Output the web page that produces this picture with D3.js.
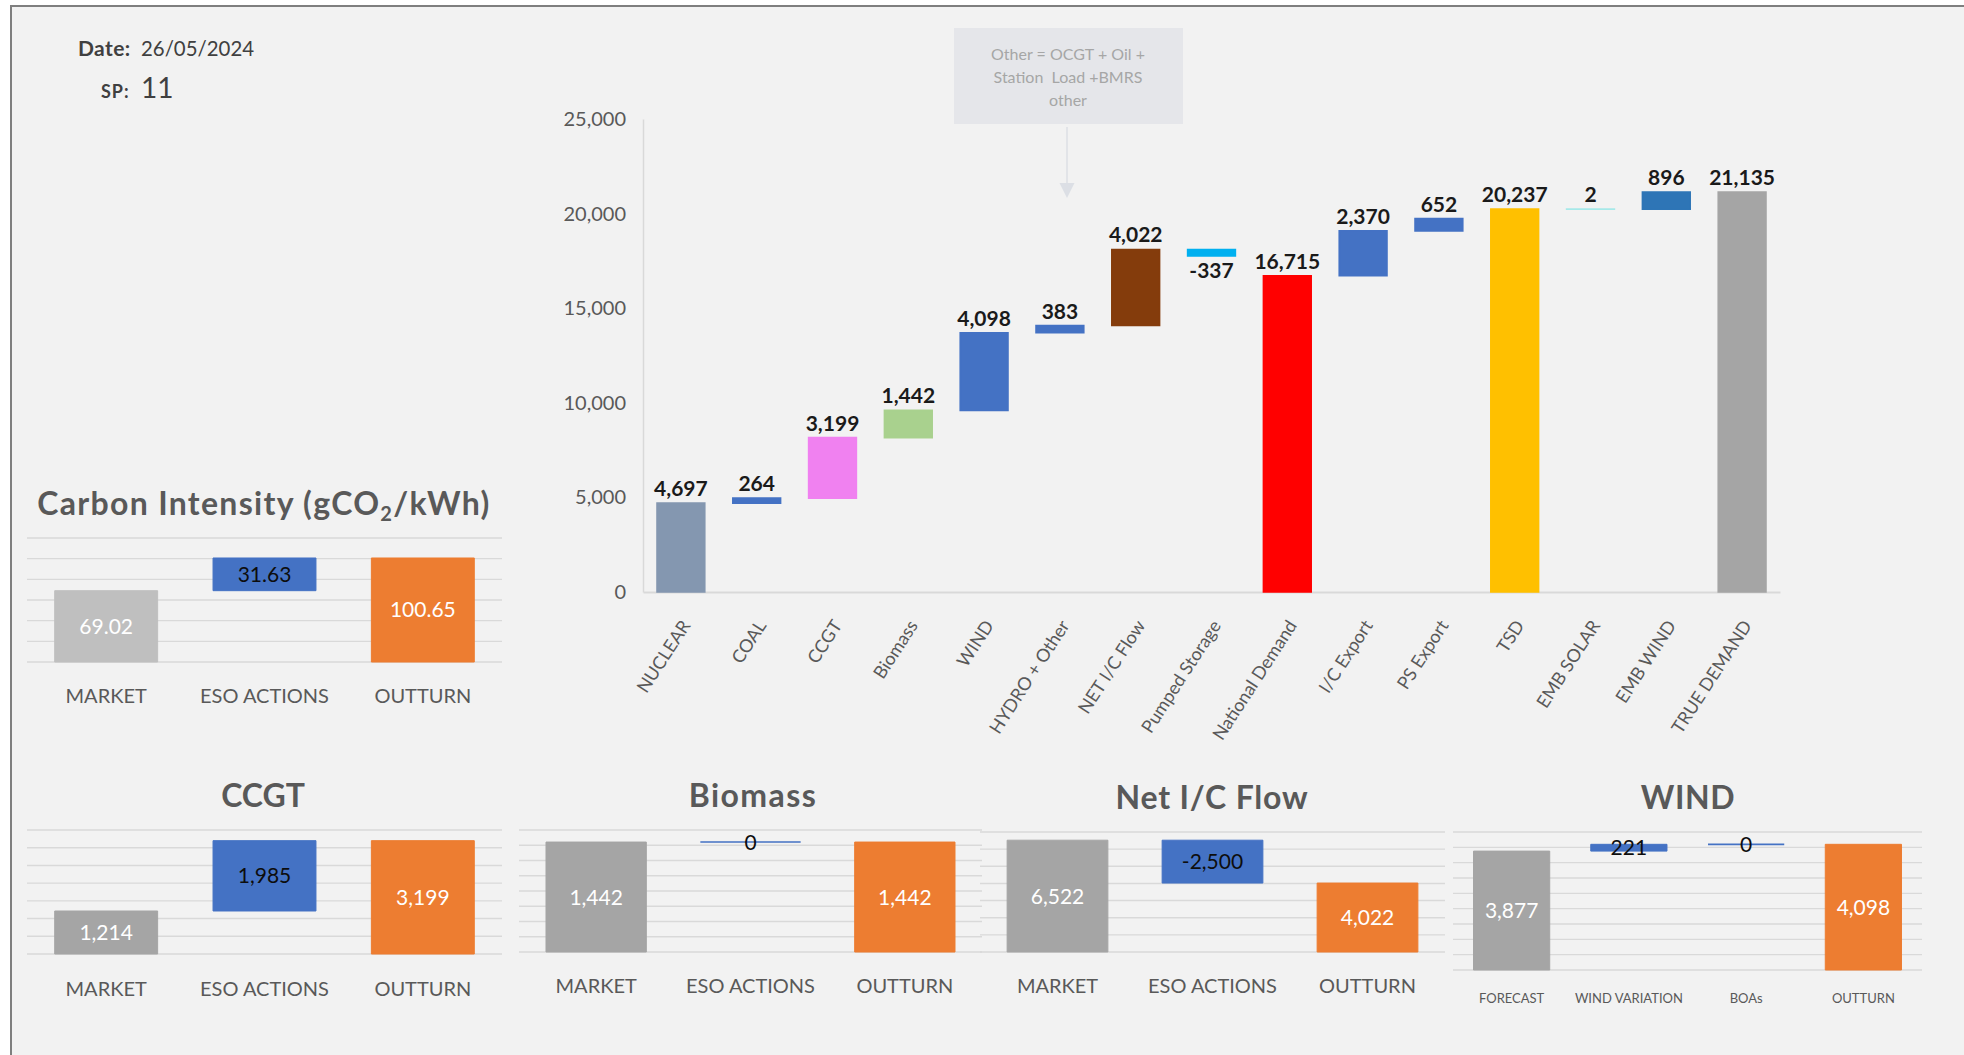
<!DOCTYPE html>
<html>
<head>
<meta charset="utf-8">
<script src="https://cdn.jsdelivr.net/npm/d3@7/dist/d3.min.js"></script>
<style>
  html, body { margin: 0; padding: 0; background: #ffffff; }
  svg { display: block; font-family: Lato, "Open Sans", sans-serif; }
</style>
</head>
<body>
<svg id="chart" width="1964" height="1055"></svg>
<script>
// ---- Header ----
const reportDate = "26/05/2024";
const settlementPeriod = "11";

// ---- Main waterfall: generation build-up to true demand (MW) ----
const categories = ["NUCLEAR", "COAL", "CCGT", "Biomass", "WIND", "HYDRO + Other", "NET I/C Flow",
  "Pumped Storage", "National Demand", "I/C Export", "PS Export", "TSD", "EMB SOLAR", "EMB WIND", "TRUE DEMAND"];
const values = [4697, 264, 3199, 1442, 4098, 383, 4022, -337, 16715, 2370, 652, 20237, 2, 896, 21135];
const totalFlags = [false, false, false, false, false, false, false, false, true, false, false, true, false, false, true];
const yTicks = [0, 5000, 10000, 15000, 20000, 25000];
const barColors = ["#8497B0", "#4472C4", "#F081F0", "#A9D18E", "#4472C4", "#4472C4", "#843C0C",
  "#00B0F0", "#FF0000", "#4472C4", "#4472C4", "#FFC000", "#A6E9E9", "#2E75B6", "#A5A5A5"];
const noteLines = ["Other = OCGT + Oil +", "Station  Load +BMRS", "other"];

// ---- Small panels ----
const ciCategories = ["MARKET", "ESO ACTIONS", "OUTTURN"];
const ciValues = [69.02, 31.63, 100.65];
const ciTicks = [0, 20, 40, 60, 80, 100, 120];

const adjCategories = ["MARKET", "ESO ACTIONS", "OUTTURN"];
const ccgtValues = [1214, 1985, 3199];
const ccgtTicks = [0, 500, 1000, 1500, 2000, 2500, 3000, 3500];
const biomassValues = [1442, 0, 1442];
const biomassTicks = [0, 200, 400, 600, 800, 1000, 1200, 1400, 1600];
const icValues = [6522, -2500, 4022];
const icTicks = [0, 1000, 2000, 3000, 4000, 5000, 6000, 7000];

const windCategories = ["FORECAST", "WIND VARIATION", "BOAs", "OUTTURN"];
const windValues = [3877, 221, 0, 4098];
const windTicks = [0, 500, 1000, 1500, 2000, 2500, 3000, 3500, 4000, 4500];

const svg = d3.select("#chart");
const locale = d3.formatLocale({ decimal: ".", thousands: ",", grouping: [3], currency: ["", ""], minus: "-" });
const fmtInt = locale.format(",");
const fmt2 = locale.format(".2f");

// Sheet background and frame
svg.append("rect").attr("x", 11).attr("y", 6).attr("width", 1964).attr("height", 1060).attr("fill", "#F2F2F2");
svg.append("line").attr("x1", 11).attr("x2", 11).attr("y1", 5).attr("y2", 1055).attr("stroke", "#7F7F7F").attr("stroke-width", 2);
svg.append("line").attr("x1", 10).attr("x2", 1964).attr("y1", 6).attr("y2", 6).attr("stroke", "#7F7F7F").attr("stroke-width", 2);

// Header text
const hdr = svg.append("g").attr("fill", "#404040");
hdr.append("text").attr("x", 78).attr("y", 56).attr("font-weight", 700).attr("font-size", 21).attr("letter-spacing", 0.4).text("Date:");
hdr.append("text").attr("x", 141).attr("y", 56).attr("font-size", 20.4).text(reportDate);
hdr.append("text").attr("x", 101).attr("y", 98).attr("font-weight", 700).attr("font-size", 18).attr("letter-spacing", 1).text("SP:");
hdr.append("text").attr("x", 141).attr("y", 98).attr("font-size", 28).text(settlementPeriod);

// Bar path that still strokes when its height is zero
function barPath(x0, w, yA, yB) {
  const t = Math.min(yA, yB), h = Math.abs(yA - yB);
  return `M${x0},${t}h${w}v${h}h${-w}Z`;
}

// ---- Main waterfall ----
const x = d3.scaleBand().domain(categories).range([643, 1780]).paddingInner(0.37).paddingOuter(0.185);
const y = d3.scaleLinear().domain([0, 25000]).range([592, 119]);

let running = 0;
const steps = categories.map((c, i) => {
  let start, end;
  if (totalFlags[i]) { start = 0; end = values[i]; }
  else { start = running; end = running + values[i]; }
  running = end;
  return { cat: c, value: values[i], start, end, color: barColors[i] };
});

const yAxis = svg.append("g").attr("transform", "translate(643,0)")
  .call(d3.axisLeft(y).tickValues(yTicks).tickSize(0).tickSizeOuter(0).tickPadding(17).tickFormat(fmtInt));
yAxis.select(".domain").attr("stroke", "#D9D9D9").attr("stroke-width", 1.5);
yAxis.selectAll("text").attr("font-size", 20).attr("fill", "#595959").attr("font-family", "Lato");

const xAxis = svg.append("g").attr("transform", "translate(0,592)")
  .call(d3.axisBottom(x).tickSize(0).tickSizeOuter(0));
xAxis.select(".domain").attr("stroke", "#D9D9D9").attr("stroke-width", 2);
xAxis.selectAll("text")
  .attr("font-size", 18).attr("fill", "#595959").attr("font-family", "Lato")
  .attr("text-anchor", "end")
  .attr("transform", "translate(5,30) rotate(-57)")
  .attr("x", 0).attr("y", 0).attr("dy", "0.35em");

svg.append("g").selectAll("path").data(steps).join("path")
  .attr("d", d => barPath(x(d.cat), x.bandwidth(), y(d.start), y(d.end)))
  .attr("fill", d => d.color).attr("stroke", d => d.color).attr("stroke-width", 1.6);

svg.append("g").selectAll("text").data(steps).join("text")
  .attr("x", d => x(d.cat) + x.bandwidth() / 2)
  .attr("y", d => d.value >= 0 ? y(Math.max(d.start, d.end)) - 7 : y(Math.min(d.start, d.end)) + 22)
  .attr("text-anchor", "middle").attr("font-size", 21).attr("font-weight", 700).attr("fill", "#1A1A1A")
  .text(d => fmtInt(d.value));

// Note box with arrow
svg.append("rect").attr("x", 954).attr("y", 28).attr("width", 229).attr("height", 96).attr("fill", "#E5E6EA");
svg.append("g").selectAll("text").data(noteLines).join("text")
  .attr("x", 1068).attr("y", (d, i) => 60 + i * 23)
  .attr("text-anchor", "middle").attr("font-size", 16).attr("fill", "#A6A6A6")
  .attr("xml:space", "preserve").text(d => d);
svg.append("line").attr("x1", 1067).attr("x2", 1067).attr("y1", 127).attr("y2", 185)
  .attr("stroke", "#DCDFE5").attr("stroke-width", 1.5);
svg.append("path").attr("d", "M1059.5,183L1074.5,183L1067,198Z").attr("fill", "#DCDFE5");

// ---- Small waterfall panels ----
function panel(o) {
  const g = svg.append("g");
  const xs = d3.scaleBand().domain(o.cats).range([o.x0, o.x1]).paddingInner(0.35).paddingOuter(0.175);
  const ys = d3.scaleLinear().domain([0, o.ticks[o.ticks.length - 1]]).range([o.yBot, o.yTop]);

  g.selectAll("line.grid").data(o.ticks).join("line")
    .attr("x1", o.x0).attr("x2", o.x1).attr("y1", d => ys(d)).attr("y2", d => ys(d))
    .attr("stroke", "#D9D9D9").attr("stroke-width", 1.4);

  const last = o.cats.length - 1;
  let run = 0;
  const items = o.cats.map((c, i) => {
    let s, e;
    if (i === 0 || i === last) { s = 0; e = o.vals[i]; }
    else { s = run; e = run + o.vals[i]; }
    run = e;
    const color = i === 0 ? o.firstColor : (i === last ? "#ED7D31" : "#4472C4");
    return { c, v: o.vals[i], s, e, color, total: i === 0 || i === last };
  });

  g.selectAll("path").data(items).join("path")
    .attr("d", d => barPath(xs(d.c), xs.bandwidth(), ys(d.s), ys(d.e)))
    .attr("fill", d => d.color).attr("stroke", d => d.color)
    .attr("stroke-width", d => d.v === 0 ? 1.6 : 1);

  g.selectAll("text.val").data(items).join("text")
    .attr("x", d => xs(d.c) + xs.bandwidth() / 2)
    .attr("y", d => (ys(d.s) + ys(d.e)) / 2 + 7.5)
    .attr("text-anchor", "middle").attr("font-size", 21)
    .attr("fill", d => d.total ? "#FFFFFF" : "#0D0D0D")
    .text(d => o.fmt(d.v));

  g.selectAll("text.cat").data(o.cats).join("text")
    .attr("x", d => xs(d) + xs.bandwidth() / 2).attr("y", o.catY)
    .attr("text-anchor", "middle").attr("font-size", o.catSize).attr("fill", "#595959")
    .text(d => d);

  const t = g.append("text").attr("x", o.titleX).attr("y", o.titleY)
    .attr("text-anchor", "middle").attr("font-size", 32).attr("font-weight", 700).attr("fill", "#595959")
    .attr("letter-spacing", o.spacing);
  if (o.titleParts) {
    o.titleParts.forEach(p => {
      const ts = t.append("tspan").text(p.t);
      if (p.sub) ts.attr("font-size", 20).attr("dy", 6);
      if (p.after) ts.attr("dy", -6);
    });
  } else {
    t.text(o.title);
  }
}

panel({ cats: ciCategories, vals: ciValues, ticks: ciTicks, x0: 27, x1: 502, yTop: 538, yBot: 662,
  firstColor: "#BFBFBF", fmt: fmt2, catY: 703, catSize: 20, titleX: 264, titleY: 515, spacing: 1.3,
  titleParts: [{ t: "Carbon Intensity (gCO" }, { t: "2", sub: true }, { t: "/kWh)", after: true }] });

panel({ cats: adjCategories, vals: ccgtValues, ticks: ccgtTicks, x0: 27, x1: 502, yTop: 830, yBot: 954,
  firstColor: "#A5A5A5", fmt: fmtInt, catY: 996, catSize: 20, titleX: 263, titleY: 807, spacing: 0, title: "CCGT" });

panel({ cats: adjCategories, vals: biomassValues, ticks: biomassTicks, x0: 519, x1: 982, yTop: 830, yBot: 952,
  firstColor: "#A5A5A5", fmt: fmtInt, catY: 993, catSize: 20, titleX: 753, titleY: 807, spacing: 1.4, title: "Biomass" });

panel({ cats: adjCategories, vals: icValues, ticks: icTicks, x0: 980, x1: 1445, yTop: 832, yBot: 952,
  firstColor: "#A5A5A5", fmt: fmtInt, catY: 993, catSize: 20, titleX: 1212, titleY: 809, spacing: 0.8, title: "Net I/C Flow" });

panel({ cats: windCategories, vals: windValues, ticks: windTicks, x0: 1453, x1: 1922, yTop: 832, yBot: 970,
  firstColor: "#A5A5A5", fmt: fmtInt, catY: 1003, catSize: 13, titleX: 1688, titleY: 809, spacing: 0.6, title: "WIND" });
</script>
</body>
</html>
